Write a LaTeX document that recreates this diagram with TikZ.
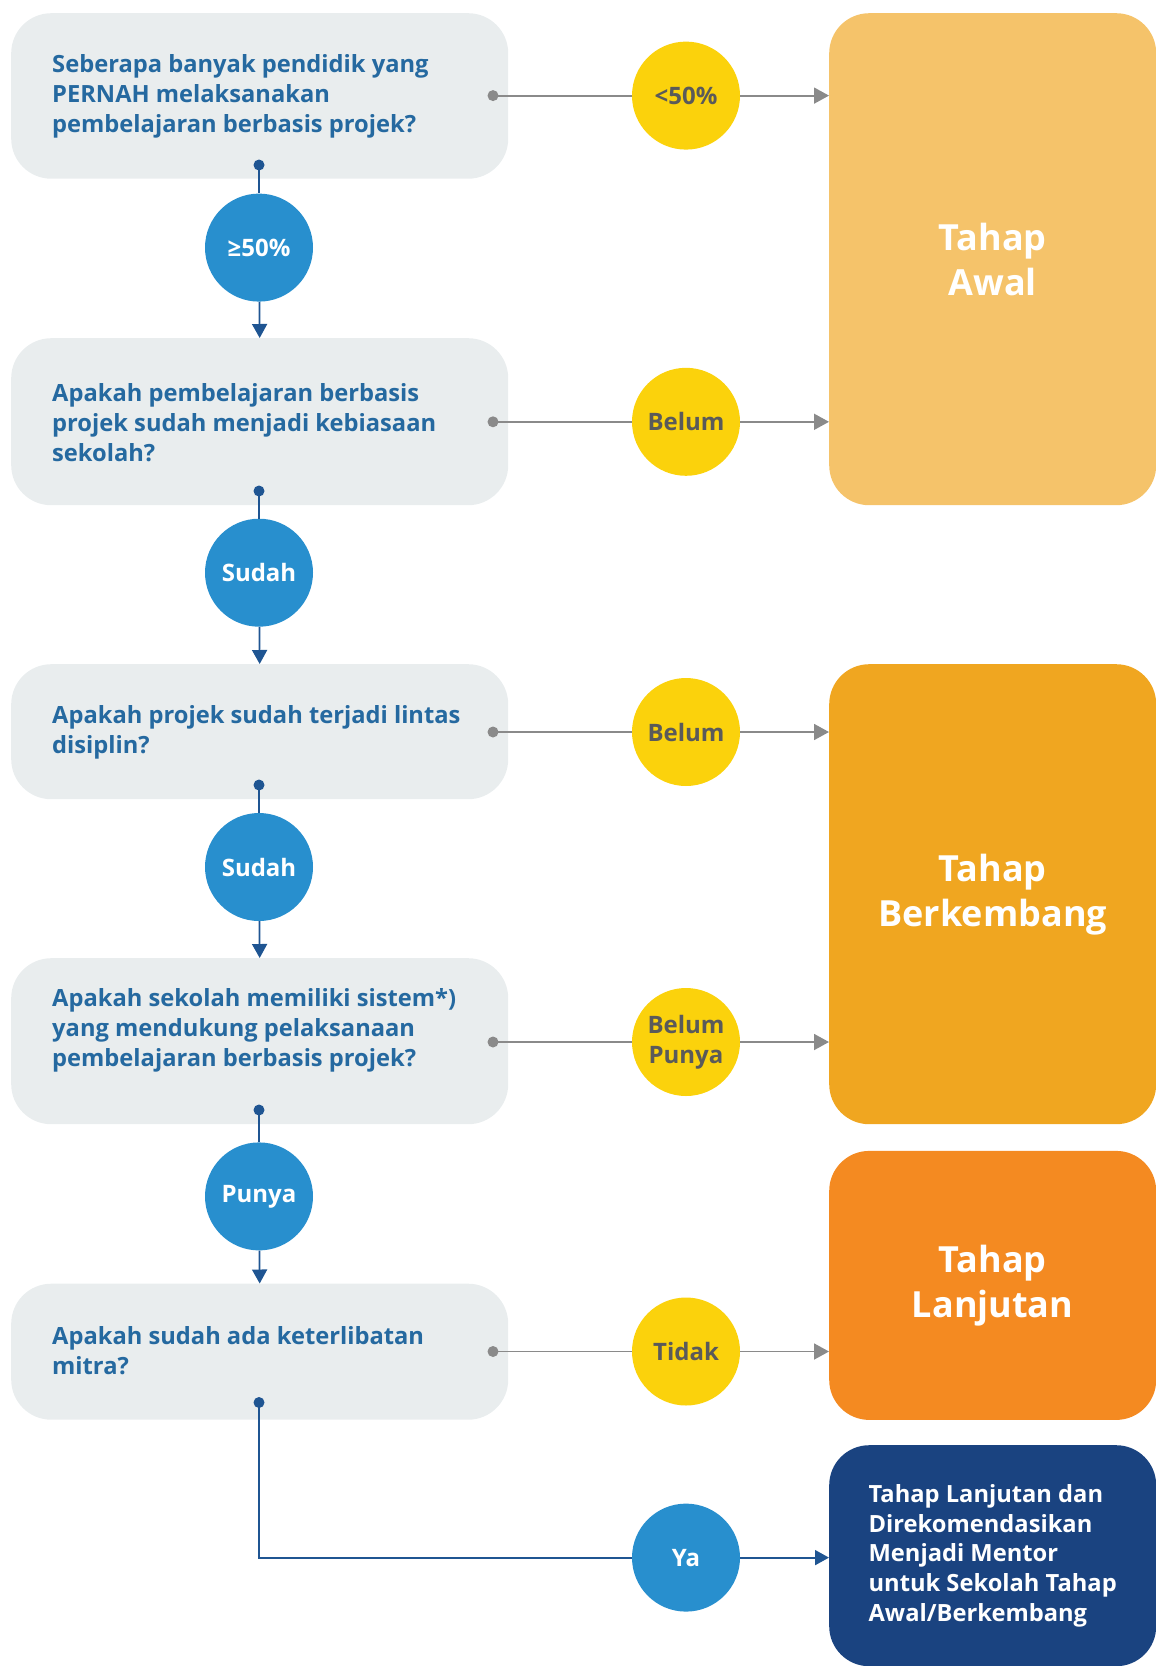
\documentclass[tikz,border=0pt]{standalone}
\usepackage{fontspec}
\setmainfont{Open Sans}
\usetikzlibrary{arrows.meta,calc}
\definecolor{qfill}{HTML}{E9EDEE}
\definecolor{qtext}{HTML}{2569A0}
\definecolor{bcirc}{HTML}{288FCE}
\definecolor{bline}{HTML}{1F5592}
\definecolor{gline}{HTML}{8A8A8A}
\definecolor{ycirc}{HTML}{FBD20C}
\definecolor{ytext}{HTML}{5A5A5A}
\definecolor{awal}{HTML}{F5C36A}
\definecolor{berk}{HTML}{F0A620}
\definecolor{lanj}{HTML}{F48A21}
\definecolor{mentor}{HTML}{1A4380}
\begin{document}
\begin{tikzpicture}[x=1pt,y=-1pt,
  qbox/.style={fill=qfill, rounded corners=40pt, minimum width=497pt, inner sep=0pt, anchor=north west},
  qlabel/.style={anchor=west, align=left, inner sep=0pt, text=qtext, font=\fontsize{23.7}{30}\selectfont\bfseries},
  rbox/.style={rounded corners=40pt, minimum width=327pt, inner sep=0pt, anchor=north west, text=white, align=center, font=\fontsize{36}{45}\selectfont\bfseries},
  bcircle/.style={circle, fill=bcirc, minimum size=108pt, inner sep=0pt, text=white, font=\fontsize{24}{30}\selectfont\bfseries, align=center},
  ycircle/.style={circle, fill=ycirc, minimum size=108pt, inner sep=0pt, text=ytext, font=\fontsize{24}{30}\selectfont\bfseries, align=center},
  gconn/.style={draw=gline, line width=1.8pt},
  garrow/.style={gconn, -{Triangle[length=15pt,width=16pt]}},
  bconn/.style={draw=bline, line width=1.8pt},
  barrow/.style={bconn, -{Triangle[length=14pt,width=15pt]}},
  gdot/.style={fill=gline},
  bdot/.style={fill=bline}
]
\useasboundingbox (0,0) rectangle (1156,1666);

% question boxes
\node[qbox, minimum height=165.5pt] (q1) at (11,13) {};
\node[qbox, minimum height=167pt] (q2) at (11,338) {};
\node[qbox, minimum height=135pt] (q3) at (11,664) {};
\node[qbox, minimum height=166pt] (q4) at (11,958) {};
\node[qbox, minimum height=136pt] (q5) at (11,1283.5) {};

\node[qlabel] (q1t) at (52,96) {Seberapa banyak pendidik yang\\PERNAH melaksanakan\\pembelajaran berbasis projek?};
\node[qlabel] (q2t) at (52,423) {Apakah pembelajaran berbasis\\projek sudah menjadi kebiasaan\\sekolah?};
\node[qlabel] (q3t) at (52,732) {Apakah projek sudah terjadi lintas\\disiplin?};
\node[qlabel] (q4t) at (52,1030) {Apakah sekolah memiliki sistem*)\\yang mendukung pelaksanaan\\pembelajaran berbasis projek?};
\node[qlabel] (q5t) at (52,1351) {Apakah sudah ada keterlibatan\\mitra?};

% result boxes
\node[rbox, fill=awal, minimum height=492pt] (awal) at (829,13) {Tahap\\Awal};
\node[rbox, fill=berk, minimum height=460pt] (berk) at (829,664) {Tahap\\Berkembang};
\node[rbox, fill=lanj, minimum height=269pt] (lanj) at (829,1150.7) {Tahap\\Lanjutan};
\node[rbox, fill=mentor, minimum height=221pt, align=left, font=\fontsize{23.7}{29.8}\selectfont\bfseries] (ment) at (829,1445) {Tahap Lanjutan dan\\Direkomendasikan\\Menjadi Mentor\\untuk Sekolah Tahap\\Awal/Berkembang};

% circles
\node[bcircle] (b1) at (259,247.6) {≥50\%};
\node[bcircle] (b2) at (259,572.7) {Sudah};
\node[bcircle] (b3) at (259,867) {Sudah};
\node[bcircle] (b4) at (259,1196.4) {Punya};
\node[bcircle] (ya) at (686,1557.6) {Ya};

\node[ycircle] (y1) at (686,95.6) {<50\%};
\node[ycircle] (y2) at (686,421.8) {Belum};
\node[ycircle] (y3) at (686,732) {Belum};
\node[ycircle] (y4) at (686,1042) {Belum\\Punya};
\node[ycircle] (y5) at (686,1351.5) {Tidak};

% dot coordinates
\coordinate (gd1) at (493,95.6);
\coordinate (gd2) at (493,421.8);
\coordinate (gd3) at (493,732);
\coordinate (gd4) at (493,1042);
\coordinate (gd5) at (493,1351.5);
\coordinate (bd1) at (259,165);
\coordinate (bd2) at (259,491);
\coordinate (bd3) at (259,785);
\coordinate (bd4) at (259,1110);
\coordinate (bd5) at (259,1402.5);

% grey connectors
\draw[gconn] (gd1) -- (y1);  \draw[garrow] (y1) -- (y1 -| awal.west);
\draw[gconn] (gd2) -- (y2);  \draw[garrow] (y2) -- (y2 -| awal.west);
\draw[gconn] (gd3) -- (y3);  \draw[garrow] (y3) -- (y3 -| berk.west);
\draw[gconn] (gd4) -- (y4);  \draw[garrow] (y4) -- (y4 -| berk.west);
\draw[gconn] (gd5) -- (y5);  \draw[garrow] (y5) -- (y5 -| lanj.west);

% blue connectors
\draw[bconn] (bd1) -- (b1);  \draw[barrow] (b1) -- (q2.north);
\draw[bconn] (bd2) -- (b2);  \draw[barrow] (b2) -- (q3.north);
\draw[bconn] (bd3) -- (b3);  \draw[barrow] (b3) -- (q4.north);
\draw[bconn] (bd4) -- (b4);  \draw[barrow] (b4) -- (q5.north);
\draw[bconn] (bd5) |- (ya);  \draw[barrow] (ya) -- (ya -| ment.west);

% dots
\foreach \d in {gd1,gd2,gd3,gd4,gd5} \fill[gdot] (\d) circle (5.5pt);
\foreach \d in {bd1,bd2,bd3,bd4,bd5} \fill[bdot] (\d) circle (5.5pt);
\end{tikzpicture}
\end{document}
